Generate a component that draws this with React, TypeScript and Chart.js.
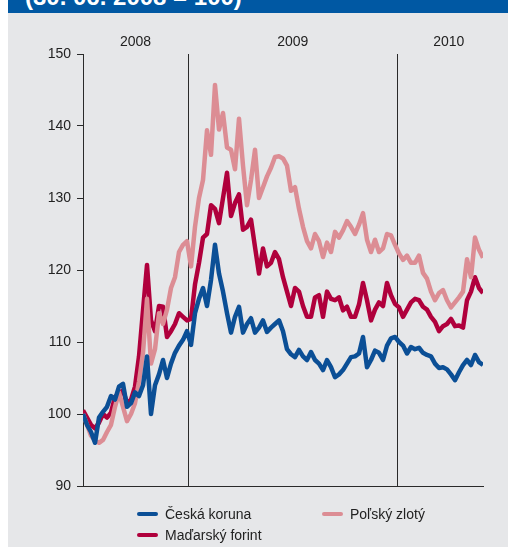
import React, { useEffect, useRef } from "react";
import { Chart, registerables } from "chart.js";
Chart.register(...registerables);

// Index (30. 06. 2008 = 100), weekly observations; x = days since 30.06.2008
const stepDays = 7;
const czk = [
  100, 98.5, 97.5, 96, 99.5, 100.3, 101, 102.5, 102, 103.8,
  104.2, 101, 101.5, 103, 102.5, 104, 108, 100, 104, 105.5,
  107.5, 105, 107, 108.5, 109.5, 110.3, 111.5, 109.6, 114, 116,
  117.5, 115, 118.6, 123.5, 119.5, 117, 114, 111.3, 113.5, 114.9,
  111.3, 112.5, 113.3, 111.3, 112, 113, 111.4, 112, 112.5, 113,
  111.5, 109, 108.3, 107.9, 108.9, 108, 107.5, 108.6, 107.5, 107,
  106.1, 107.5, 106.5, 105.1, 105.5, 106.1, 107, 107.9, 108, 108.4,
  110.7, 106.5, 107.5, 108.8, 108.5, 107.5, 109.5, 110.5, 110.7, 110,
  109.5, 108.4, 109.3, 109, 109.2, 108.5, 108.2, 108, 107, 106.4,
  106.5, 106.2, 105.5, 104.7, 105.8, 106.8, 107.5, 106.8, 108.2, 107.2,
  106.8,
];
const huf = [
  100.5, 99.5, 98.5, 98, 98.8, 100, 99.5, 100.2, 102.4, 102.8,
  103.3, 101.5, 102, 103.8, 108, 114.4, 120.7, 113, 111.5, 115,
  114.9, 110.7, 111.5, 112.5, 114, 113.5, 113, 113.2, 118, 121,
  124.5, 125, 129, 128.5, 126.5, 130, 133.5, 127.5, 129.3, 130.5,
  125.6, 126, 127, 123.2, 119.5, 123, 120.5, 121, 122.5, 121.5,
  119, 117, 115, 117.5, 117, 115, 113.5, 113.5, 116.2, 116.5,
  113.5, 117, 116, 115.8, 116.2, 114.4, 114.9, 113.5, 113.5, 115.2,
  118.2, 115.8, 113, 114.5, 115.5, 115, 118.2, 116.5, 115.3, 114.8,
  113.5, 114.5, 115.5, 116, 115.8, 114.9, 114.5, 113.5, 112.8, 111.5,
  112.2, 112.5, 113.2, 112.2, 112.3, 112, 115.8, 117, 119, 117.5,
  116.8,
];
const pln = [
  100, 98.5, 97, 96.3, 96, 96.4, 97.5, 98.5, 101, 103,
  101, 99, 100, 101.5, 104.5, 108.5, 116, 107, 109, 114,
  112.5, 114.5, 117.5, 119, 122.5, 123.5, 124, 120.5, 126, 130,
  132.5, 139.4, 136, 145.7, 139.5, 141.8, 137, 136.7, 134, 141,
  134.5, 129, 132.5, 136.7, 130, 131.5, 133, 134.2, 135.7, 135.8,
  135.5, 134.5, 131, 131.5, 128.5, 126, 124, 123, 125, 124,
  121.8, 123.8, 122.5, 125.3, 124.5, 125.5, 126.8, 126, 125, 126.3,
  127.9, 124.2, 122.5, 124.2, 122.5, 123, 125, 124.8, 123.5, 122.3,
  121.4, 122, 121, 121, 122, 119.6, 118.8, 117, 115.8, 116.8,
  117.2, 115.8, 114.8, 115.5, 116.2, 117, 121.5, 119, 124.5, 122.8,
  121.7,
];
const seriesNames = ["Česká koruna", "Maďarský forint", "Poľský zlotý"];
const yearBoundaryDays = [185, 550];
const yearLabels = ["2008", "2009", "2010"];
const yearLabelDays = [92, 367, 640];
const xMaxDays = 700;
const yMin = 90;
const yMax = 150;
const yStep = 10;

const COL_CZK = "#0b4f96";
const COL_HUF = "#b0003c";
const COL_PLN = "#dc8d94";
const FONT = '"Liberation Sans", Arial, sans-serif';

const toPoints = (arr: number[]) => arr.map((v, i) => ({ x: i * stepDays, y: v }));

const yearPlugin = {
  id: "yearLabels",
  afterDraw(chart: any) {
    const { ctx, chartArea, scales } = chart;
    ctx.save();
    ctx.font = `14px ${FONT}`;
    ctx.fillStyle = "#222";
    ctx.textAlign = "center";
    ctx.textBaseline = "middle";
    yearLabels.forEach((t, i) => {
      ctx.fillText(t, scales.x.getPixelForValue(yearLabelDays[i]), chartArea.top - 12);
    });
    ctx.restore();
  },
};

export default function App() {
  const ref = useRef<HTMLCanvasElement | null>(null);
  useEffect(() => {
    if (!ref.current) return;
    const mk = (label: string, data: number[], color: string, order: number) => ({
      label,
      data: toPoints(data),
      borderColor: color,
      backgroundColor: color,
      borderWidth: 4.5,
      pointRadius: 0,
      tension: 0,
      borderJoinStyle: "round" as const,
      order,
    });
    const chart = new Chart(ref.current, {
      type: "line",
      data: {
        datasets: [
          mk(seriesNames[0], czk, COL_CZK, 0),
          mk(seriesNames[1], huf, COL_HUF, 2),
          mk(seriesNames[2], pln, COL_PLN, 1),
        ],
      },
      options: {
        animation: false,
        responsive: true,
        maintainAspectRatio: false,
        layout: { padding: { left: 0, right: 25, top: 54, bottom: 61 } },
        plugins: { legend: { display: false }, tooltip: { enabled: false } },
        scales: {
          x: {
            type: "linear",
            min: 0,
            max: xMaxDays,
            afterBuildTicks: (s: any) => {
              s.ticks = yearBoundaryDays.map((v) => ({ value: v }));
            },
            afterFit: (s: any) => {
              s.height = 0;
            },
            ticks: { display: false },
            grid: { drawOnChartArea: true, drawTicks: false, color: "#2a2a2a", lineWidth: 1 },
            border: { display: true, color: "#2a2a2a", width: 1 },
          },
          y: {
            min: yMin,
            max: yMax,
            ticks: { stepSize: yStep, padding: 6, color: "#222", font: { family: FONT, size: 14 } },
            afterFit: (s: any) => {
              s.width = 75;
            },
            grid: { drawOnChartArea: false, drawTicks: true, tickLength: 6, color: "#2a2a2a" },
            border: { display: true, color: "#2a2a2a", width: 1 },
          },
        },
      },
      plugins: [yearPlugin],
    });
    return () => chart.destroy();
  }, []);

  const legendItem = (label: string, color: string, left: number, top: number) => (
    <div
      key={label}
      style={{ position: "absolute", left, top, height: 20, display: "flex", alignItems: "center" }}
    >
      <div style={{ width: 21, height: 4, borderRadius: 2, background: color, marginRight: 7 }} />
      <span style={{ font: `14px ${FONT}`, color: "#222", whiteSpace: "nowrap" }}>{label}</span>
    </div>
  );

  return (
    <div style={{ position: "absolute", left: 8, top: 0, width: 500, height: 547, background: "#e6e7e9", overflow: "hidden" }}>
      <div style={{ position: "absolute", left: 0, top: 0, width: 500, height: 13, background: "#0058a3", overflow: "hidden" }}>
        <span
          style={{
            position: "absolute",
            left: 17,
            top: -15,
            font: `bold 24px/24px ${FONT}`,
            color: "#fff",
            whiteSpace: "nowrap",
          }}
        >
          (30. 06. 2008 = 100)
        </span>
      </div>
      <div style={{ position: "absolute", left: 0, top: 0, width: 500, height: 547 }}>
        <canvas ref={ref} />
      </div>
      {legendItem(seriesNames[0], COL_CZK, 129, 504)}
      {legendItem(seriesNames[2], COL_PLN, 314, 504)}
      {legendItem(seriesNames[1], COL_HUF, 129, 525)}
    </div>
  );
}
